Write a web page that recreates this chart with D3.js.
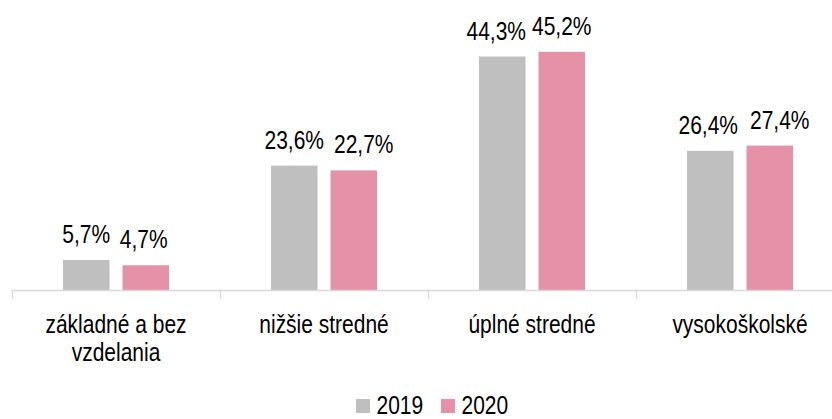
<!DOCTYPE html>
<html>
<head>
<meta charset="utf-8">
<script src="https://cdn.jsdelivr.net/npm/d3@7"></script>
<style>
  html, body { margin: 0; padding: 0; background: #fff; }
  svg { display: block; }
  text { font-family: "Liberation Sans Narrow", "Arial Narrow", "Liberation Sans", Arial, sans-serif; fill: #000; }
</style>
</head>
<body>
<svg id="chart" width="832" height="419"></svg>
<script>
const categories = ["základné a bez\nvzdelania", "nižšie stredné", "úplné stredné", "vysokoškolské"];
const seriesNames = ["2019", "2020"];
const values2019 = [5.7, 23.6, 44.3, 26.4];
const values2020 = [4.7, 22.7, 45.2, 27.4];
const colors = ["#BFBFBF", "#E592A8"];

const series = [values2019, values2020];
const W = 832, H = 419;
const svg = d3.select("#chart");
const FS = 26;

// manual label nudges (layout only), per series then category
const labelDx = [[0, 0, -6, -2], [-2, 10, 0, 10]];

const probe = svg.append("text").attr("font-size", FS).text("2019");
const measured = probe.node().getComputedTextLength();
probe.remove();
const target = 46.7;
const k = Math.abs(measured - target) / target > 0.05 ? target / measured : 1;

function label(g, x, y, str, anchor, fs) {
  return g.append("text")
    .attr("transform", `translate(${x},${y}) scale(${k},1)`)
    .attr("font-size", fs || FS)
    .attr("text-anchor", anchor || "middle")
    .text(str);
}

const x = d3.scaleBand().domain(categories).range([12, 844]).padding(0);
const xs = d3.scaleBand().domain(seriesNames).range([51, 157]).paddingInner(13 / 59.5).paddingOuter(0);
const y = d3.scaleLinear().domain([0, 50]).range([290, 26.5]);

const groups = svg.append("g").selectAll("g").data(categories).join("g")
  .attr("transform", d => `translate(${x(d)},0)`);

seriesNames.forEach((s, si) => {
  groups.append("rect")
    .attr("x", xs(s))
    .attr("width", xs.bandwidth())
    .attr("y", (d, i) => y(series[si][i]))
    .attr("height", (d, i) => y(0) - y(series[si][i]))
    .attr("fill", colors[si]);
});

const fmt = v => v.toFixed(1).replace(".", ",") + "%";
categories.forEach((c, i) => {
  seriesNames.forEach((s, si) => {
    const v = series[si][i];
    label(svg, x(c) + xs(s) + xs.bandwidth() / 2 + labelDx[si][i], y(v) - 17, fmt(v));
  });
});

const axisG = svg.append("g").attr("transform", "translate(0,290.5)");
axisG.append("line").attr("x1", 12).attr("x2", 844).attr("y1", 0).attr("y2", 0)
  .attr("stroke", "#D9D9D9").attr("stroke-width", 1.3);
const tickPos = categories.map(c => x(c)).concat([x.range()[1]]);
axisG.selectAll("line.tick").data(tickPos).join("line").attr("class", "tick")
  .attr("x1", d => Math.round(d) + 0.5).attr("x2", d => Math.round(d) + 0.5)
  .attr("y1", 0).attr("y2", 8).attr("stroke", "#D9D9D9").attr("stroke-width", 1.3);

categories.forEach(c => {
  c.split("\n").forEach((ln, li) => {
    label(svg, x(c) + x.bandwidth() / 2, 332.5 + li * 28, ln);
  });
});

const legend = [{ s: "2019", sx: 356, tx: 376.5 }, { s: "2020", sx: 441, tx: 461.5 }];
legend.forEach((l, i) => {
  svg.append("rect").attr("x", l.sx).attr("y", 399).attr("width", 14).attr("height", 14).attr("fill", colors[i]);
  label(svg, l.tx, 413.5, l.s, "start");
});
</script>
</body>
</html>
